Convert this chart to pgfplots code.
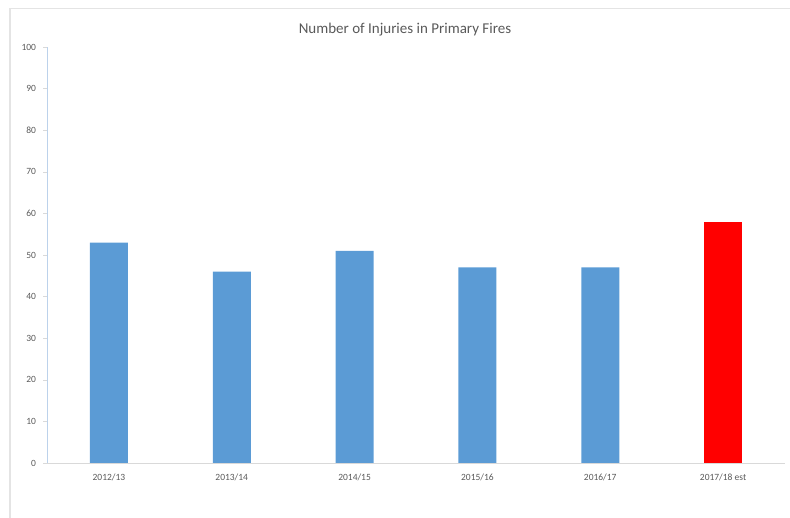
\documentclass[border=0pt]{standalone}
\usepackage{pgfplots}
\pgfplotsset{compat=1.18}
\usepackage{fontspec}
\setmainfont{Carlito}
\definecolor{barblue}{RGB}{91,155,213}
\definecolor{txtgray}{RGB}{89,89,89}
\definecolor{yaxcol}{RGB}{188,210,235}
\definecolor{xaxcol}{RGB}{217,217,217}
\definecolor{framecol}{RGB}{228,228,228}
\begin{document}
\begin{tikzpicture}
\useasboundingbox (0,0) rectangle (790pt,518pt);
\draw[framecol, line width=1.2pt] (10pt,0pt) -- (10pt,509.5pt) -- (790pt,509.5pt);
\begin{axis}[
  at={(47.5pt,55pt)}, anchor=south west,
  scale only axis, width=737pt, height=416pt,
  ymin=0, ymax=100, ytick={0,10,...,100},
  xmin=-0.5, xmax=5.5,
  xtick={0,1,2,3,4,5},
  xticklabels={2012/13,2013/14,2014/15,2015/16,2016/17,2017/18 est},
  major x tick style={draw=none},
  extra x ticks={0.5,1.5,2.5,3.5,4.5},
  extra x tick labels={},
  extra x tick style={major tick length=4pt, tick style={draw=xaxcol}, tick pos=lower, xtick align=outside},
  ytick align=outside, ytick pos=left, major tick length=4pt,
  y tick style={draw=xaxcol},
  axis x line*=bottom, axis y line*=left,
  x axis line style={draw=xaxcol, line width=0.8pt, -},
  y axis line style={draw=yaxcol, line width=0.8pt, -},
  tick label style={font=\fontsize{9.5}{11}\selectfont, text=txtgray},
  /pgf/number format/assume math mode=true,
  xticklabel style={yshift=-3pt},
  yticklabel style={xshift=-4pt},
  title={Number of Injuries in Primary Fires},
  title style={at={(0.485,1)}, anchor=center, yshift=11pt, font=\fontsize{15}{17}\selectfont, text=txtgray},
  ybar, bar width=38pt, bar shift=0pt,
  clip=false,
]
\addplot[fill=barblue, draw=none] coordinates {(0,53) (1,46) (2,51) (3,47) (4,47)};
\addplot[fill=red, draw=none] coordinates {(5,58)};
\end{axis}
\end{tikzpicture}
\end{document}
